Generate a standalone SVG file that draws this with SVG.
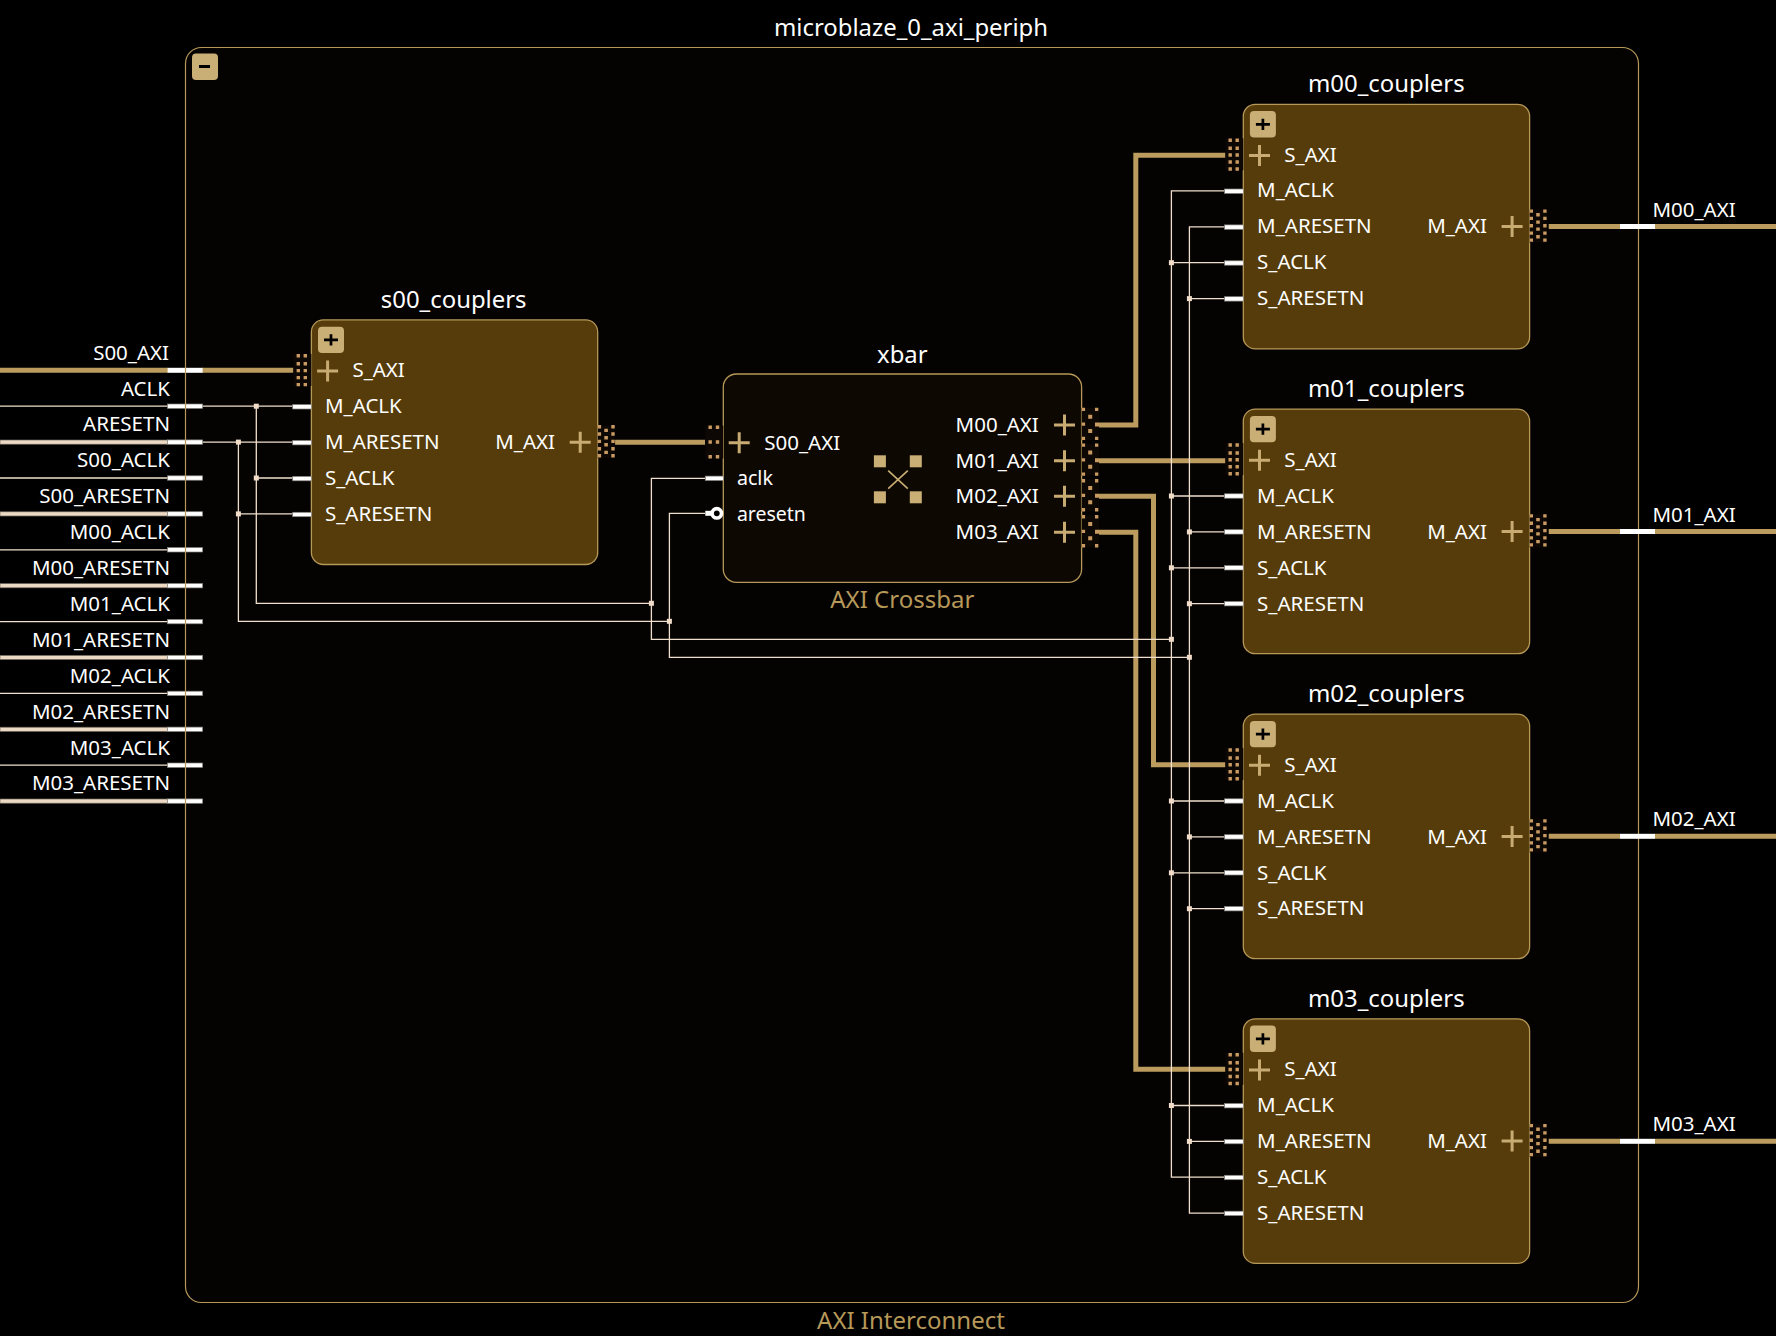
<svg xmlns="http://www.w3.org/2000/svg" width="1776" height="1336" viewBox="0 0 1776 1336">
<style>
text{font-family:"Noto Sans","Open Sans","Liberation Sans",sans-serif;fill:#fff}
.lb{font-size:20.5px}
.tt{font-size:23.9px;text-anchor:middle}
.tan{fill:#b69858;font-size:24px;text-anchor:middle}
.e{text-anchor:end}
.box{fill:#553c0a;stroke:#b69858;stroke-width:1.3}
.xb{fill:#0e0803;stroke:#b69858;stroke-width:1.3}
.btn{fill:#c9ae75}
.blk{stroke:#000;stroke-width:2.7;fill:none}
.pl{stroke:#c7ab72;stroke-width:3;fill:none}
.stub{fill:#fff;stroke:#85807a;stroke-width:.7}
.wst{fill:#fff}
.w{stroke:#f0dfcc;stroke-width:1.3;fill:none}
.wt{fill:#ecd9c3;stroke:#6d665c;stroke-width:.7}
.bus{stroke:#bb9c5e;stroke-width:5;fill:none}
.j{fill:#f0dcc8}
.dk{fill:#0e0804}
.d{fill:#c99a62}
.sq{fill:#c9ae75}
</style>
<defs>
<g id="pm"><path class="pl" d="M-10.5 0H10.5M0 -10.5V10.5"/></g>
<g id="ifL"><rect class="dk" x="-18" y="-17" width="18" height="32"/>
<path class="d" d="M-14.8-16.8h3.4v3.4h-3.4zM-7.8-16.8h3.4v3.4h-3.4zM-14.8-8.8h3.4v3.4h-3.4zM-7.8-8.8h3.4v3.4h-3.4zM-14.8-2h3.4v3.4h-3.4zM-7.8-2h3.4v3.4h-3.4zM-14.8 5h3.4v3.4h-3.4zM-7.8 5h3.4v3.4h-3.4zM-14.8 12h3.4v3.4h-3.4zM-7.8 12h3.4v3.4h-3.4z"/></g>
<g id="ifXL"><rect class="dk" x="-18" y="-17" width="18" height="33"/>
<path class="d" d="M-14.8-17h3.4v3.4h-3.4zM-7.5-17h3.4v3.4h-3.4zM-14.8-2.2h3.4v3.4h-3.4zM-7.5-2.2h3.4v3.4h-3.4zM-14.8 12.5h3.4v3.4h-3.4zM-7.5 12.5h3.4v3.4h-3.4z"/></g>
<g id="ifX"><rect class="dk" x="0" y="-17" width="17.4" height="32"/>
<path class="d" d="M.2-17.2h3.3v3.3h-3.3zM13.4-17.2h3.3v3.3h-3.3zM6.6-10.3h4v4h-4zM.2-2.5h3.3v3.3h-3.3zM13.4-2.5h4v4h-4zM6.6 4h4v4h-4zM.2 11.8h3.3v3.3h-3.3zM13.4 11.8h3.3v3.3h-3.3z"/></g>
<g id="ifC"><rect class="dk" x="0" y="-17" width="17.4" height="33"/>
<path class="d" d="M0-17.2h3.4v3.4h-3.4zM13.6-17.2h3.4v3.4h-3.4zM6.6-13.5h3.6v3.4h-3.6zM0-9.9h3.4v3.4h-3.4zM13.6-9.9h3.4v3.4h-3.4zM6.6-6.2h3.6v3.4h-3.6zM0-2.5h3.4v3.4h-3.4zM13.6-2.5h3.4v3.4h-3.4zM6.6 .8h3.6v3.4h-3.6zM0 4.8h3.4v3.4h-3.4zM13.6 4.8h3.4v3.4h-3.4zM6.6 8.5h3.6v3.4h-3.6zM0 11.8h3.4v3.4h-3.4zM13.6 11.8h3.4v3.4h-3.4z"/></g>
<g id="bt"><rect class="btn" x="6.6" y="6.8" width="26" height="26.4" rx="4"/><path class="blk" d="M12.6 20H26.6M19.6 14.4V25.6"/></g>
<g id="coupler"><rect class="box" width="286.3" height="244.6" rx="12"/><use href="#bt"/>
<use href="#ifL" y="51"/><use href="#pm" x="16.2" y="51.2"/>
<rect class="stub" x="-18.7" y="84.7" width="18.7" height="4.4"/><rect class="stub" x="-18.7" y="120.6" width="18.7" height="4.4"/><rect class="stub" x="-18.7" y="156.5" width="18.7" height="4.4"/><rect class="stub" x="-18.7" y="192.4" width="18.7" height="4.4"/>
<use href="#ifC" x="286.3" y="122.3"/><use href="#pm" x="268.8" y="122.3"/></g>
</defs>
<rect width="1776" height="1336" fill="#000"/>
<rect x="185.5" y="47.5" width="1453" height="1255" rx="16" fill="#050202"/>
<g id="connectors">
<path class="bus" d="M0 370.3H168M202 370.3H293.4M615 442.3H705M1099 425H1135.8V155.3H1225.6M1099 460.7H1225.6M1099 496.3H1153.5V764.8H1225.6M1099 532.3H1135.8V1069.3H1225.6M1548.7 226.5H1620M1655 226.5H1776M1548.7 531.5H1620M1655 531.5H1776M1548.7 836.3H1620M1655 836.3H1776M1548.7 1141.3H1620M1655 1141.3H1776"/>
<path class="w" d="M0 406.2H168M0 478H168M0 549.8H168M0 621.6H168M0 693.4H168M0 765.2H168"/>
<path class="w" d="M202 406.2H292.7M202 442.1H292.7M256.3 406.2V603.3H651.4M256.3 478H292.7M238.4 442.1V621.3H669.4M238.4 513.9H292.7"/>
<path class="w" d="M705 478.3H651.4V639.3H1171.4M705 513.3H669.4V657.3H1189.4"/>
<path class="w" d="M1224.6 190.9H1171.4V1177.2H1224.6M1224.6 226.8H1189.4V1213.1H1224.6"/>
<path class="w" d="M1171.4 262.7H1224.6M1171.4 496H1224.6M1171.4 567.8H1224.6M1171.4 801H1224.6M1171.4 872.8H1224.6M1171.4 1105.5H1224.6M1189.4 298.6H1224.6M1189.4 531.9H1224.6M1189.4 603.7H1224.6M1189.4 836.9H1224.6M1189.4 908.7H1224.6M1189.4 1141.4H1224.6"/>
<g id="junctions"><rect class="j" x="253.8" y="403.7" width="5" height="5"/><rect class="j" x="253.8" y="475.5" width="5" height="5"/><rect class="j" x="235.9" y="439.6" width="5" height="5"/><rect class="j" x="235.9" y="511.4" width="5" height="5"/><rect class="j" x="648.9" y="600.8" width="5" height="5"/><rect class="j" x="666.9" y="618.8" width="5" height="5"/><rect class="j" x="1168.9" y="636.8" width="5" height="5"/><rect class="j" x="1186.9" y="654.8" width="5" height="5"/><rect class="j" x="1168.9" y="260.2" width="5" height="5"/><rect class="j" x="1168.9" y="493.5" width="5" height="5"/><rect class="j" x="1168.9" y="565.3" width="5" height="5"/><rect class="j" x="1168.9" y="798.5" width="5" height="5"/><rect class="j" x="1168.9" y="870.3" width="5" height="5"/><rect class="j" x="1168.9" y="1103" width="5" height="5"/><rect class="j" x="1186.9" y="296.1" width="5" height="5"/><rect class="j" x="1186.9" y="529.4" width="5" height="5"/><rect class="j" x="1186.9" y="601.2" width="5" height="5"/><rect class="j" x="1186.9" y="834.4" width="5" height="5"/><rect class="j" x="1186.9" y="906.2" width="5" height="5"/><rect class="j" x="1186.9" y="1138.9" width="5" height="5"/></g>
</g>
<g id="ports_left">
<rect class="wt" x="0" y="440" width="168" height="4.2"/><rect class="wt" x="0" y="511.8" width="168" height="4.2"/><rect class="wt" x="0" y="583.6" width="168" height="4.2"/><rect class="wt" x="0" y="655.4" width="168" height="4.2"/><rect class="wt" x="0" y="727.2" width="168" height="4.2"/><rect class="wt" x="0" y="799" width="168" height="4.2"/>
<g id="port_S00_AXI"><rect class="wst" x="167.6" y="367.8" width="35" height="5"/><text class="lb e" x="169" y="359.6">S00_AXI</text></g>
<g id="port_ACLK"><rect class="stub" x="167.6" y="404" width="35" height="4.4"/><text class="lb e" x="170" y="395.5">ACLK</text></g>
<g id="port_ARESETN"><rect class="stub" x="167.6" y="439.9" width="35" height="4.4"/><text class="lb e" x="170" y="431.4">ARESETN</text></g>
<g id="port_S00_ACLK"><rect class="stub" x="167.6" y="475.8" width="35" height="4.4"/><text class="lb e" x="170" y="467.3">S00_ACLK</text></g>
<g id="port_S00_ARESETN"><rect class="stub" x="167.6" y="511.7" width="35" height="4.4"/><text class="lb e" x="170" y="503.2">S00_ARESETN</text></g>
<g id="port_M00_ACLK"><rect class="stub" x="167.6" y="547.6" width="35" height="4.4"/><text class="lb e" x="170" y="539.1">M00_ACLK</text></g>
<g id="port_M00_ARESETN"><rect class="stub" x="167.6" y="583.5" width="35" height="4.4"/><text class="lb e" x="170" y="575">M00_ARESETN</text></g>
<g id="port_M01_ACLK"><rect class="stub" x="167.6" y="619.4" width="35" height="4.4"/><text class="lb e" x="170" y="610.9">M01_ACLK</text></g>
<g id="port_M01_ARESETN"><rect class="stub" x="167.6" y="655.3" width="35" height="4.4"/><text class="lb e" x="170" y="646.8">M01_ARESETN</text></g>
<g id="port_M02_ACLK"><rect class="stub" x="167.6" y="691.2" width="35" height="4.4"/><text class="lb e" x="170" y="682.7">M02_ACLK</text></g>
<g id="port_M02_ARESETN"><rect class="stub" x="167.6" y="727.1" width="35" height="4.4"/><text class="lb e" x="170" y="718.6">M02_ARESETN</text></g>
<g id="port_M03_ACLK"><rect class="stub" x="167.6" y="763" width="35" height="4.4"/><text class="lb e" x="170" y="754.5">M03_ACLK</text></g>
<g id="port_M03_ARESETN"><rect class="stub" x="167.6" y="798.9" width="35" height="4.4"/><text class="lb e" x="170" y="790.4">M03_ARESETN</text></g>
</g>
<g id="microblaze_0_axi_periph">
<rect x="185.5" y="47.5" width="1453" height="1255" rx="16" fill="none" stroke="#b69858" stroke-width="1.2"/>
<rect class="btn" x="192" y="53.4" width="26" height="26.6" rx="4"/><rect x="199" y="65" width="11" height="3" fill="#000"/>
<text class="tt" x="911" y="36">microblaze_0_axi_periph</text>
<text class="tan" x="911" y="1329">AXI Interconnect</text>
</g>
<g id="ports_right">
<g id="port_M00_AXI"><rect class="wst" x="1620" y="224" width="35" height="5"/><text class="lb" x="1652.4" y="216.7">M00_AXI</text></g>
<g id="port_M01_AXI"><rect class="wst" x="1620" y="529" width="35" height="5"/><text class="lb" x="1652.4" y="521.5">M01_AXI</text></g>
<g id="port_M02_AXI"><rect class="wst" x="1620" y="833.8" width="35" height="5"/><text class="lb" x="1652.4" y="826.3">M02_AXI</text></g>
<g id="port_M03_AXI"><rect class="wst" x="1620" y="1138.8" width="35" height="5"/><text class="lb" x="1652.4" y="1131">M03_AXI</text></g>
</g>
<g id="s00_couplers" transform="translate(311.4,319.9)"><use href="#coupler"/>
<text class="tt" x="142.3" y="-11.6">s00_couplers</text>
<text class="lb" x="41" y="57.2">S_AXI</text><text class="lb" x="13.6" y="93.2">M_ACLK</text><text class="lb" x="13.6" y="129.2">M_ARESETN</text><text class="lb" x="13.6" y="165.2">S_ACLK</text><text class="lb" x="13.6" y="200.8">S_ARESETN</text><text class="lb e" x="243.6" y="129.2">M_AXI</text></g>
<g id="xbar" transform="translate(723.3,374)"><rect class="xb" width="358.3" height="208.3" rx="13"/>
<use href="#ifXL" y="68.5"/><use href="#pm" x="15.9" y="68.7"/>
<rect class="stub" x="-18" y="102.1" width="18" height="4.4"/>
<rect class="wst" x="-18" y="136.8" width="10" height="5"/><circle cx="-6.5" cy="139.3" r="4.7" fill="#000" stroke="#fff" stroke-width="3.6"/>
<use href="#ifX" x="358.3" y="51"/><use href="#ifX" x="358.3" y="86.7"/><use href="#ifX" x="358.3" y="122.3"/><use href="#ifX" x="358.3" y="158.3"/>
<use href="#pm" x="341.2" y="51"/><use href="#pm" x="341.2" y="86.7"/><use href="#pm" x="341.2" y="122.3"/><use href="#pm" x="341.2" y="158.3"/>
<rect class="sq" x="150.6" y="81.3" width="12" height="12"/><rect class="sq" x="186.5" y="81.3" width="12" height="12"/><rect class="sq" x="150.6" y="117.3" width="12" height="12"/><rect class="sq" x="186.5" y="117.3" width="12" height="12"/>
<path d="M164.9 96.7L184.5 114.7M184.5 96.7L164.9 114.7" stroke="#c9ae75" stroke-width="1.6" fill="none"/>
<text class="tt" x="179" y="-11.3">xbar</text><text class="tan" x="179" y="234.3">AXI Crossbar</text>
<text class="lb" x="41" y="75.7">S00_AXI</text><text class="lb" x="13.6" y="111.4" textLength="36" lengthAdjust="spacingAndGlyphs">aclk</text><text class="lb" x="13.6" y="147" textLength="69" lengthAdjust="spacingAndGlyphs">aresetn</text>
<text class="lb e" x="315.5" y="58">M00_AXI</text><text class="lb e" x="315.5" y="93.7">M01_AXI</text><text class="lb e" x="315.5" y="129.3">M02_AXI</text><text class="lb e" x="315.5" y="165.3">M03_AXI</text></g>
<g id="m00_couplers" transform="translate(1243.3,104.3)"><use href="#coupler"/>
<text class="tt" x="143" y="-12">m00_couplers</text>
<text class="lb" x="41" y="57.4">S_AXI</text><text class="lb" x="13.8" y="93.2">M_ACLK</text><text class="lb" x="13.8" y="129">M_ARESETN</text><text class="lb" x="13.8" y="164.8">S_ACLK</text><text class="lb" x="13.8" y="200.8">S_ARESETN</text><text class="lb e" x="243.6" y="129">M_AXI</text></g>
<g id="m01_couplers" transform="translate(1243.3,409.1)"><use href="#coupler"/>
<text class="tt" x="143" y="-12">m01_couplers</text>
<text class="lb" x="41" y="58">S_AXI</text><text class="lb" x="13.8" y="94">M_ACLK</text><text class="lb" x="13.8" y="130">M_ARESETN</text><text class="lb" x="13.8" y="166">S_ACLK</text><text class="lb" x="13.8" y="201.6">S_ARESETN</text><text class="lb e" x="243.6" y="130">M_AXI</text></g>
<g id="m02_couplers" transform="translate(1243.3,714.1)"><use href="#coupler"/>
<text class="tt" x="143" y="-12">m02_couplers</text>
<text class="lb" x="41" y="57.6">S_AXI</text><text class="lb" x="13.8" y="93.6">M_ACLK</text><text class="lb" x="13.8" y="129.6">M_ARESETN</text><text class="lb" x="13.8" y="165.6">S_ACLK</text><text class="lb" x="13.8" y="201.2">S_ARESETN</text><text class="lb e" x="243.6" y="129.6">M_AXI</text></g>
<g id="m03_couplers" transform="translate(1243.3,1018.8)"><use href="#coupler"/>
<text class="tt" x="143" y="-12">m03_couplers</text>
<text class="lb" x="41" y="57.5">S_AXI</text><text class="lb" x="13.8" y="93.5">M_ACLK</text><text class="lb" x="13.8" y="129.5">M_ARESETN</text><text class="lb" x="13.8" y="165.5">S_ACLK</text><text class="lb" x="13.8" y="201.1">S_ARESETN</text><text class="lb e" x="243.6" y="129.5">M_AXI</text></g>
</svg>
